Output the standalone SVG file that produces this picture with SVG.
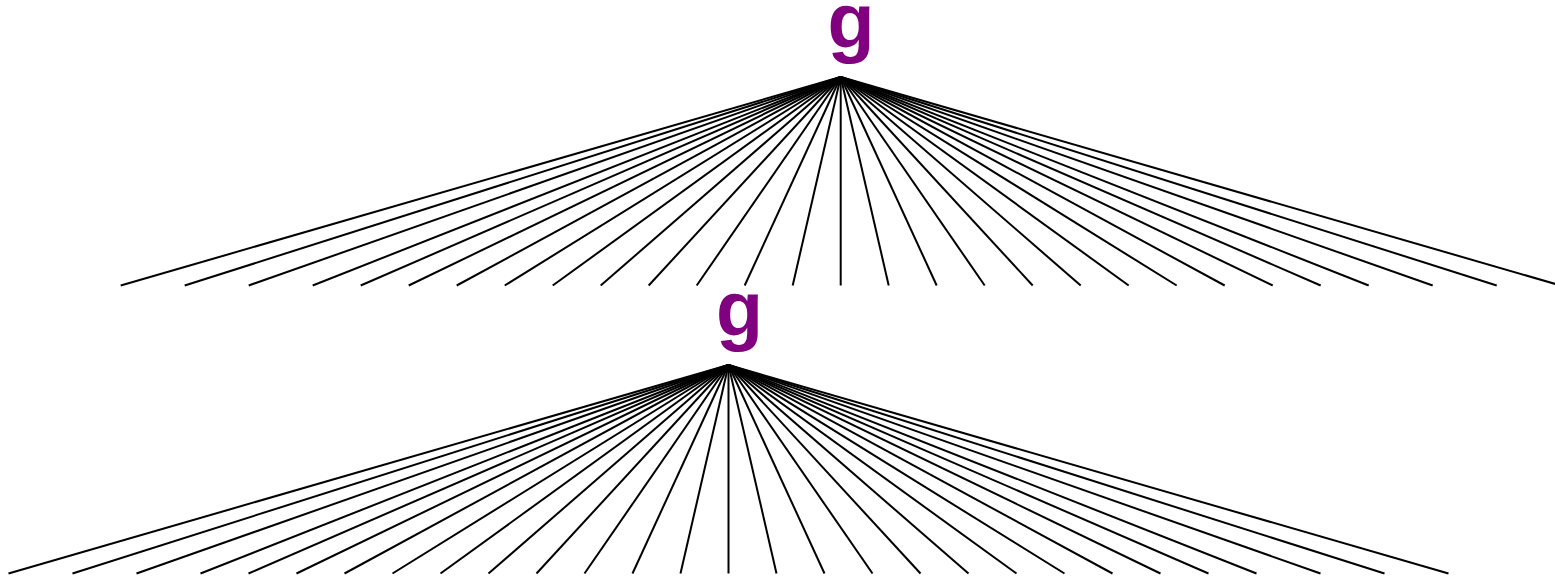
<svg xmlns="http://www.w3.org/2000/svg" width="1555" height="580" viewBox="0 0 1555 580">
<style>
.lbl{font-family:"Liberation Sans",Arial,sans-serif;font-weight:bold;font-size:77px;fill:#800080;text-anchor:middle}
.e{stroke:#000;stroke-width:2;fill:none}
</style>
<defs>
<g id="fan" stroke="#000" stroke-width="2">
<line x1="0" y1="0" x2="-720" y2="208.5"/>
<line x1="0" y1="0" x2="-656" y2="208.5"/>
<line x1="0" y1="0" x2="-592" y2="208.5"/>
<line x1="0" y1="0" x2="-528" y2="208.5"/>
<line x1="0" y1="0" x2="-480" y2="208.5"/>
<line x1="0" y1="0" x2="-432" y2="208.5"/>
<line x1="0" y1="0" x2="-384" y2="208.5"/>
<line x1="0" y1="0" x2="-336" y2="208.5"/>
<line x1="0" y1="0" x2="-288" y2="208.5"/>
<line x1="0" y1="0" x2="-240" y2="208.5"/>
<line x1="0" y1="0" x2="-192" y2="208.5"/>
<line x1="0" y1="0" x2="-144" y2="208.5"/>
<line x1="0" y1="0" x2="-96" y2="208.5"/>
<line x1="0" y1="0" x2="-48" y2="208.5"/>
<line x1="0" y1="0" x2="0" y2="208.5"/>
<line x1="0" y1="0" x2="48" y2="208.5"/>
<line x1="0" y1="0" x2="96" y2="208.5"/>
<line x1="0" y1="0" x2="144" y2="208.5"/>
<line x1="0" y1="0" x2="192" y2="208.5"/>
<line x1="0" y1="0" x2="240" y2="208.5"/>
<line x1="0" y1="0" x2="288" y2="208.5"/>
<line x1="0" y1="0" x2="336" y2="208.5"/>
<line x1="0" y1="0" x2="384" y2="208.5"/>
<line x1="0" y1="0" x2="432" y2="208.5"/>
<line x1="0" y1="0" x2="480" y2="208.5"/>
<line x1="0" y1="0" x2="528" y2="208.5"/>
<line x1="0" y1="0" x2="592" y2="208.5"/>
<line x1="0" y1="0" x2="656" y2="208.5"/>
<line x1="0" y1="0" x2="720" y2="208.5"/>
</g>
</defs>
<g id="connectors" class="e">
<use href="#fan" transform="translate(840.7,77)"/>
<use href="#fan" transform="translate(728.5,365)"/>
</g>
<g id="node-g1"><text class="lbl" x="851" y="48">g</text></g>
<g id="node-g2"><text class="lbl" x="739.5" y="336">g</text></g>
</svg>
